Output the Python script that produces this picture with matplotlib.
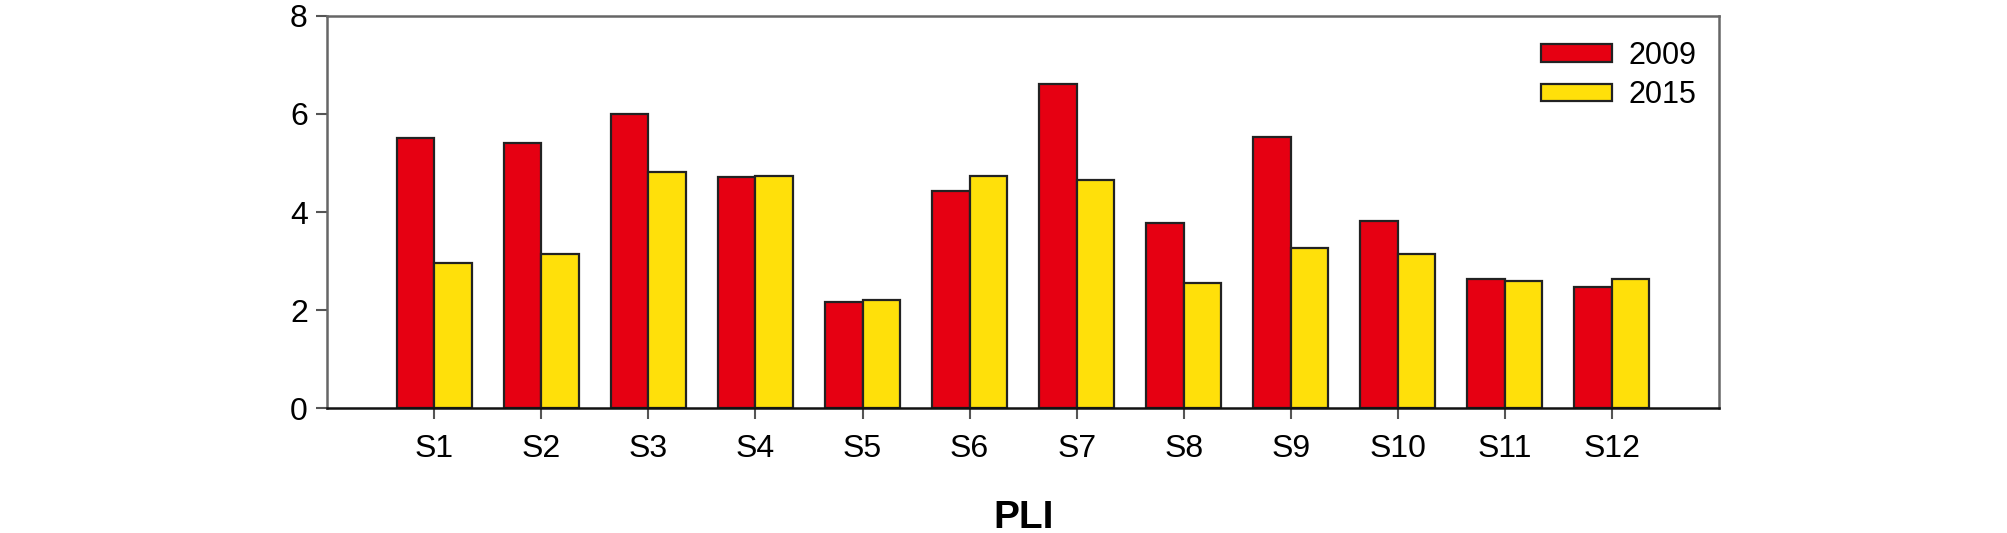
import numpy as np
import matplotlib.pyplot as plt

plt.rcParams['font.family'] = ['Liberation Sans', 'DejaVu Sans']

# PLI per site
sites = ['S1', 'S2', 'S3', 'S4', 'S5', 'S6', 'S7', 'S8', 'S9', 'S10', 'S11', 'S12']
pli_2009 = [5.51, 5.41, 6.00, 4.72, 2.17, 4.43, 6.61, 3.77, 5.54, 3.82, 2.63, 2.46]
pli_2015 = [2.96, 3.14, 4.81, 4.74, 2.20, 4.74, 4.65, 2.56, 3.27, 3.14, 2.59, 2.63]

fig = plt.figure(figsize=(20.08, 5.33), dpi=100)
ax = fig.add_axes([0.163, 0.2345, 0.693, 0.7355])

x = np.arange(1, len(sites) + 1)
w = 0.35
ax.bar(x - w / 2, pli_2009, w, color='#E60012', edgecolor='#222222', linewidth=1.6, label='2009')
ax.bar(x + w / 2, pli_2015, w, color='#FFE00A', edgecolor='#222222', linewidth=1.6, label='2015')

ax.set_xlim(0, 13)
ax.set_ylim(0, 8)
ax.set_xticks(x)
ax.set_xticklabels(sites, fontsize=23)
ax.set_yticks([0, 2, 4, 6, 8])
ax.tick_params(axis='y', labelsize=23, length=8, width=1.5, color='#555555', pad=6)
ax.tick_params(axis='x', length=8, width=1.5, color='#555555', pad=11)

for s in ['top', 'right', 'left']:
    ax.spines[s].set_color('#666666')
    ax.spines[s].set_linewidth(1.8)
ax.spines['bottom'].set_color('#111111')
ax.spines['bottom'].set_linewidth(1.8)

ax.set_xlabel('PLI', fontsize=28, fontweight='bold')
ax.xaxis.set_label_coords(0.5, -0.235)

ax.legend(loc='upper right', bbox_to_anchor=(0.984, 0.937), frameon=False, fontsize=22,
          borderaxespad=0, borderpad=0, handlelength=2.3, handleheight=0.5,
          handletextpad=0.55, labelspacing=0.32)

plt.savefig('out.png', dpi=100)
plt.close()
